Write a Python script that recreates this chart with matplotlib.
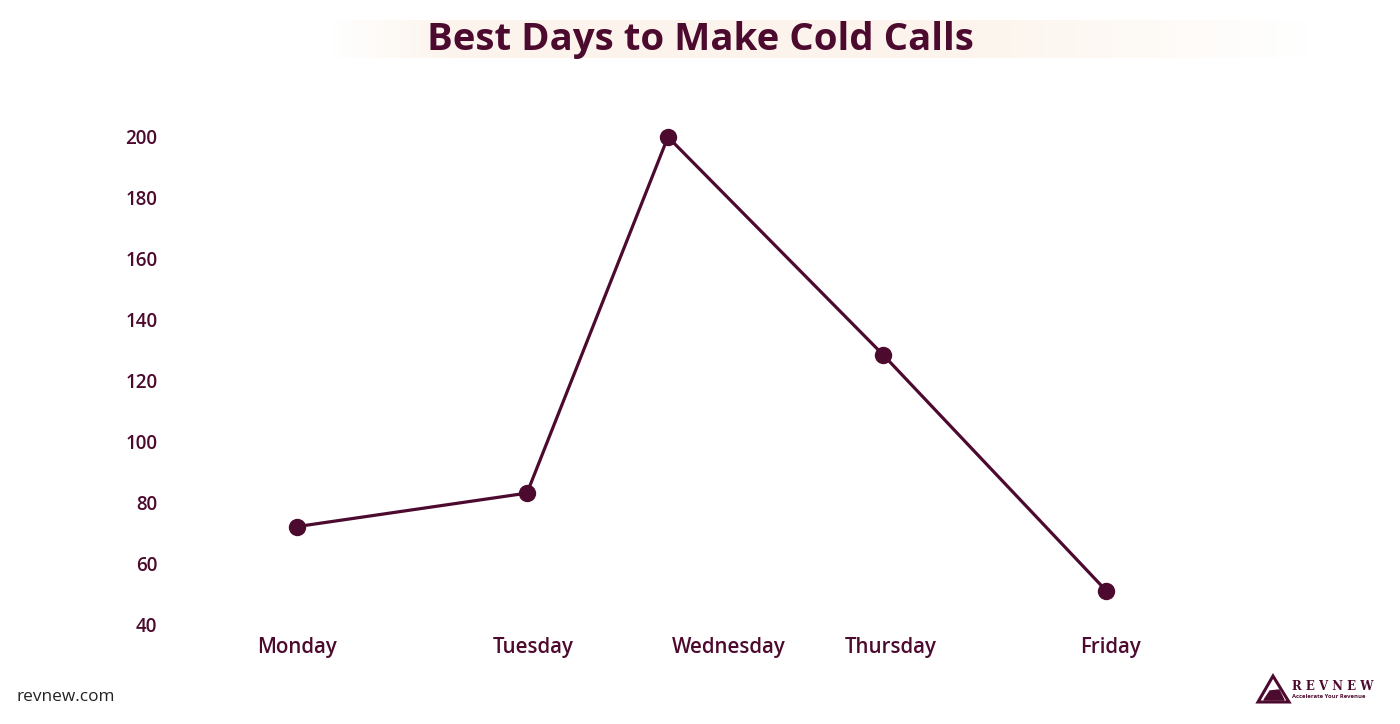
import numpy as np
import matplotlib.pyplot as plt
from matplotlib.patches import Polygon

# data
days = ['Monday', 'Tuesday', 'Wednesday', 'Thursday', 'Friday']
calls = [72, 83, 200, 128.5, 51]
# the points and the labels do not sit at the same x in the original
day_pos = [0.0, 1.137, 1.834, 2.897, 4.0]
label_pos = [0.0, 1.167, 2.136, 2.937, 4.02]
y_ticks = [40, 60, 80, 100, 120, 140, 160, 180, 200]

MAROON = '#4d0a2f'
FONT = ['Open Sans', 'DejaVu Sans']


def run():
    fig = plt.figure(figsize=(14, 7.24), dpi=100)
    fig.patch.set_facecolor('white')

    # faint peach band behind the title
    band = fig.add_axes([330 / 1400, 1 - 58 / 724, 980 / 1400, 38 / 724])
    grad = np.ones((1, 256, 4))
    grad[..., 0] = 0.99
    grad[..., 1] = 0.95
    grad[..., 2] = 0.91
    xs = np.linspace(0, 1, 256)
    grad[0, :, 3] = np.clip(np.minimum(xs / 0.12, (1 - xs) / 0.35), 0, 1) * 0.8
    band.imshow(grad, aspect='auto', extent=(0, 1, 0, 1))
    band.set_axis_off()

    fig.text(0.5, 1 - 40 / 724, 'Best Days to Make Cold Calls', ha='center', va='center',
             fontsize=27.6, fontweight='bold', color=MAROON, family=FONT)

    ax = fig.add_axes([170 / 1400, 100 / 724, 1130 / 1400, 487 / 724])
    ax.plot(day_pos, calls, color=MAROON, lw=2.3, marker='o', markersize=11.5, clip_on=False)
    ax.set_ylim(40, 200)
    ax.set_xlim(-0.628, 4.959)
    ax.set_yticks(y_ticks)
    ax.set_xticks(label_pos)
    ax.set_xticklabels(days)
    ax.tick_params(length=0, colors=MAROON)
    ax.tick_params(axis='y', pad=9, labelsize=13.5)
    ax.tick_params(axis='x', pad=9, labelsize=14.8)
    for lab in ax.get_xticklabels() + ax.get_yticklabels():
        lab.set_fontweight('semibold')
        lab.set_family(FONT)
    for s in ax.spines.values():
        s.set_visible(False)

    # footer
    fig.text(17 / 1400, 1 - 697 / 724, 'revnew.com', ha='left', va='center',
             fontsize=12.4, color='#222222', family=FONT)

    # logo
    tri = Polygon([[1258 / 1400, 1 - 702 / 724], [1273 / 1400, 1 - 676 / 724],
                   [1289 / 1400, 1 - 702 / 724]], closed=True, fill=False,
                  edgecolor=MAROON, lw=2.2, transform=fig.transFigure)
    fig.patches.append(tri)
    wave = Polygon([[1264 / 1400, 1 - 700 / 724], [1270 / 1400, 1 - 691 / 724],
                    [1279 / 1400, 1 - 690 / 724], [1284 / 1400, 1 - 700 / 724]],
                   closed=True, color=MAROON, transform=fig.transFigure)
    fig.patches.append(wave)
    fig.text(1292 / 1400, 1 - 686 / 724, 'R E V N E W', ha='left', va='center',
             fontsize=8.5, fontweight='bold', color=MAROON, family=['DejaVu Serif'])
    fig.text(1292 / 1400, 1 - 697 / 724, 'Accelerate Your Revenue', ha='left', va='center',
             fontsize=4.2, fontweight='bold', color=MAROON, family=FONT)

    fig.savefig('out.png', dpi=100)


if __name__ == "__main__":
    run()
